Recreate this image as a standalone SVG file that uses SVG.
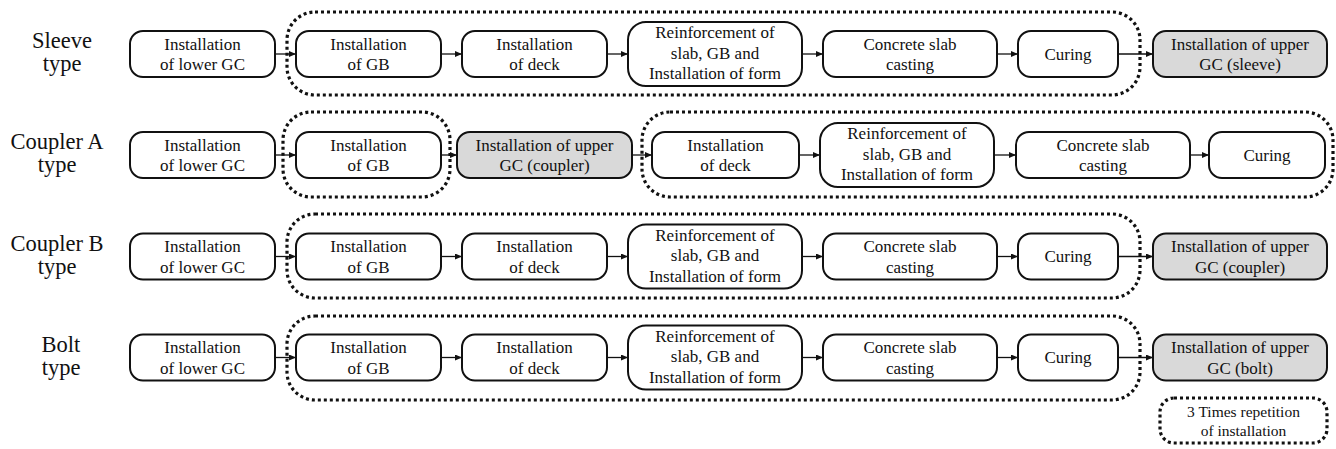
<svg xmlns="http://www.w3.org/2000/svg" width="1336" height="449" viewBox="0 0 1336 449">
<style>
text{font-family:"Liberation Serif","Times New Roman",serif;fill:#111;text-anchor:middle}
.t{font-size:17px}
.lab{font-size:22.5px}
.lg{font-size:15.5px}
.b{fill:#fff;stroke:#111;stroke-width:2}
.g{fill:#d9d9d9;stroke:#111;stroke-width:2}
.d{fill:none;stroke:#111;stroke-width:3.2;stroke-dasharray:3 3}
.a{fill:none;stroke:#111;stroke-width:1.3;marker-end:url(#ah)}
</style>
<defs>
<marker id="ah" markerUnits="userSpaceOnUse" markerWidth="7" markerHeight="6" refX="7" refY="3" orient="auto">
<path d="M0,0 L7,3 L0,6 z" fill="#111"/>
</marker>
</defs>
<rect width="1336" height="449" fill="#fff"/>

<g id="groups">
<rect class="d" x="287" y="12" width="853" height="83" rx="28"/>
<rect class="d" x="283" y="112" width="167" height="85" rx="28"/>
<rect class="d" x="642" y="112" width="691" height="85" rx="28"/>
<rect class="d" x="287" y="214" width="853" height="84" rx="28"/>
<rect class="d" x="287" y="316" width="853" height="84" rx="28"/>
</g>

<g id="labels">
<text class="lab" x="62" y="48">Sleeve</text><text class="lab" x="62" y="71">type</text>
<text class="lab" x="57" y="149">Coupler A</text><text class="lab" x="57" y="172">type</text>
<text class="lab" x="57" y="251">Coupler B</text><text class="lab" x="57" y="274">type</text>
<text class="lab" x="61" y="352">Bolt</text><text class="lab" x="61" y="375">type</text>
</g>

<g id="connectors">
<path class="a" d="M275 54H296"/><path class="a" d="M441 54H462"/><path class="a" d="M607 54H628"/><path class="a" d="M802 54H823"/><path class="a" d="M997 54H1018"/><path class="a" d="M1118 54H1153"/>
<path class="a" d="M275 155H296"/><path class="a" d="M441 155H457"/><path class="a" d="M632 155H652"/><path class="a" d="M799 155H820"/><path class="a" d="M994 155H1016"/><path class="a" d="M1190 155H1209"/>
<path class="a" d="M275 256.5H296"/><path class="a" d="M441 256.5H462"/><path class="a" d="M607 256.5H628"/><path class="a" d="M802 256.5H823"/><path class="a" d="M997 256.5H1018"/><path class="a" d="M1118 256.5H1153"/>
<path class="a" d="M275 357.5H296"/><path class="a" d="M441 357.5H462"/><path class="a" d="M607 357.5H628"/><path class="a" d="M802 357.5H823"/><path class="a" d="M997 357.5H1018"/><path class="a" d="M1118 357.5H1153"/>
</g>

<!-- Row 1: Sleeve -->
<g id="r1-lower"><rect class="b" x="130" y="31" width="145" height="46" rx="13"/><text class="t" x="202.5" y="49.5">Installation</text><text class="t" x="202.5" y="70">of lower GC</text></g>
<g id="r1-gb"><rect class="b" x="296" y="31" width="145" height="46" rx="13"/><text class="t" x="368.5" y="49.5">Installation</text><text class="t" x="368.5" y="70">of GB</text></g>
<g id="r1-deck"><rect class="b" x="462" y="31" width="145" height="46" rx="13"/><text class="t" x="534.5" y="49.5">Installation</text><text class="t" x="534.5" y="70">of deck</text></g>
<g id="r1-reinf"><rect class="b" x="628" y="22" width="174" height="64" rx="18"/><text class="t" x="715" y="38">Reinforcement of</text><text class="t" x="715" y="58.5">slab, GB and</text><text class="t" x="715" y="79">Installation of form</text></g>
<g id="r1-conc"><rect class="b" x="823" y="31" width="174" height="46" rx="13"/><text class="t" x="910" y="49.5">Concrete slab</text><text class="t" x="910" y="70">casting</text></g>
<g id="r1-cure"><rect class="b" x="1018" y="31" width="100" height="46" rx="13"/><text class="t" x="1068" y="59.5">Curing</text></g>
<g id="r1-upper"><rect class="g" x="1153" y="31" width="174" height="46" rx="13"/><text class="t" x="1240" y="49.5">Installation of upper</text><text class="t" x="1240" y="70">GC (sleeve)</text></g>

<!-- Row 2: Coupler A -->
<g id="r2-lower"><rect class="b" x="130" y="132" width="145" height="46" rx="13"/><text class="t" x="202.5" y="150.5">Installation</text><text class="t" x="202.5" y="171">of lower GC</text></g>
<g id="r2-gb"><rect class="b" x="296" y="132" width="145" height="46" rx="13"/><text class="t" x="368.5" y="150.5">Installation</text><text class="t" x="368.5" y="171">of GB</text></g>
<g id="r2-upper"><rect class="g" x="457" y="132" width="175" height="46" rx="13"/><text class="t" x="544.5" y="150.5">Installation of upper</text><text class="t" x="544.5" y="171">GC (coupler)</text></g>
<g id="r2-deck"><rect class="b" x="652" y="132" width="147" height="46" rx="13"/><text class="t" x="725.5" y="150.5">Installation</text><text class="t" x="725.5" y="171">of deck</text></g>
<g id="r2-reinf"><rect class="b" x="820" y="123" width="174" height="64" rx="18"/><text class="t" x="907" y="139">Reinforcement of</text><text class="t" x="907" y="159.5">slab, GB and</text><text class="t" x="907" y="180">Installation of form</text></g>
<g id="r2-conc"><rect class="b" x="1016" y="132" width="174" height="46" rx="13"/><text class="t" x="1103" y="150.5">Concrete slab</text><text class="t" x="1103" y="171">casting</text></g>
<g id="r2-cure"><rect class="b" x="1209" y="132" width="116" height="46" rx="13"/><text class="t" x="1267" y="160.5">Curing</text></g>

<!-- Row 3: Coupler B -->
<g id="r3-lower"><rect class="b" x="130" y="233.5" width="145" height="46" rx="13"/><text class="t" x="202.5" y="252">Installation</text><text class="t" x="202.5" y="272.5">of lower GC</text></g>
<g id="r3-gb"><rect class="b" x="296" y="233.5" width="145" height="46" rx="13"/><text class="t" x="368.5" y="252">Installation</text><text class="t" x="368.5" y="272.5">of GB</text></g>
<g id="r3-deck"><rect class="b" x="462" y="233.5" width="145" height="46" rx="13"/><text class="t" x="534.5" y="252">Installation</text><text class="t" x="534.5" y="272.5">of deck</text></g>
<g id="r3-reinf"><rect class="b" x="628" y="224.5" width="174" height="64" rx="18"/><text class="t" x="715" y="240.5">Reinforcement of</text><text class="t" x="715" y="261">slab, GB and</text><text class="t" x="715" y="281.5">Installation of form</text></g>
<g id="r3-conc"><rect class="b" x="823" y="233.5" width="174" height="46" rx="13"/><text class="t" x="910" y="252">Concrete slab</text><text class="t" x="910" y="272.5">casting</text></g>
<g id="r3-cure"><rect class="b" x="1018" y="233.5" width="100" height="46" rx="13"/><text class="t" x="1068" y="262">Curing</text></g>
<g id="r3-upper"><rect class="g" x="1153" y="233.5" width="174" height="46" rx="13"/><text class="t" x="1240" y="252">Installation of upper</text><text class="t" x="1240" y="272.5">GC (coupler)</text></g>

<!-- Row 4: Bolt -->
<g id="r4-lower"><rect class="b" x="130" y="334.5" width="145" height="46" rx="13"/><text class="t" x="202.5" y="353">Installation</text><text class="t" x="202.5" y="373.5">of lower GC</text></g>
<g id="r4-gb"><rect class="b" x="296" y="334.5" width="145" height="46" rx="13"/><text class="t" x="368.5" y="353">Installation</text><text class="t" x="368.5" y="373.5">of GB</text></g>
<g id="r4-deck"><rect class="b" x="462" y="334.5" width="145" height="46" rx="13"/><text class="t" x="534.5" y="353">Installation</text><text class="t" x="534.5" y="373.5">of deck</text></g>
<g id="r4-reinf"><rect class="b" x="628" y="325.5" width="174" height="64" rx="18"/><text class="t" x="715" y="341.5">Reinforcement of</text><text class="t" x="715" y="362">slab, GB and</text><text class="t" x="715" y="382.5">Installation of form</text></g>
<g id="r4-conc"><rect class="b" x="823" y="334.5" width="174" height="46" rx="13"/><text class="t" x="910" y="353">Concrete slab</text><text class="t" x="910" y="373.5">casting</text></g>
<g id="r4-cure"><rect class="b" x="1018" y="334.5" width="100" height="46" rx="13"/><text class="t" x="1068" y="363">Curing</text></g>
<g id="r4-upper"><rect class="g" x="1153" y="334.5" width="174" height="46" rx="13"/><text class="t" x="1240" y="353">Installation of upper</text><text class="t" x="1240" y="373.5">GC (bolt)</text></g>

<g id="legend">
<rect class="d" x="1160" y="398" width="167" height="45" rx="14"/>
<text class="lg" x="1243.5" y="417">3 Times repetition</text>
<text class="lg" x="1243.5" y="435.5">of installation</text>
</g>
</svg>
